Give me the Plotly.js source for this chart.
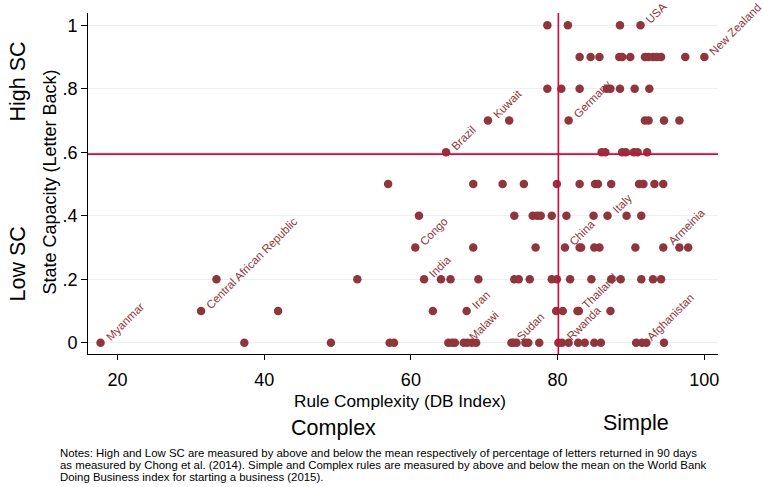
<!DOCTYPE html>
<html><head><meta charset="utf-8">
<script src="https://cdn.plot.ly/plotly-3.0.1.min.js"></script>
<style>html,body{margin:0;padding:0;background:#fff}#chart{width:763px;height:487px}</style>
</head><body><div id="chart"></div>
<script>
// ---- data: Rule complexity (DB index) at each State Capacity level ----
const scLevels = [0, 0.1, 0.2, 0.3, 0.4, 0.5, 0.6, 0.7, 0.8, 0.9, 1.0];
const rule_sc00 = [17.7, 37.3, 49.1, 57.1, 57.7, 65.1, 65.6, 66.0, 67.2, 67.7, 68.3, 68.9, 73.7, 74.0, 74.4, 75.6, 76.0, 77.5, 80.1, 80.6, 81.5, 82.8, 83.7, 85.0, 85.9, 90.7, 91.5, 92.1, 94.5];
const rule_sc01 = [31.4, 41.9, 63.0, 67.6, 79.8, 80.7, 82.7, 82.9, 87.2];
const rule_sc02 = [33.5, 52.7, 61.8, 64.1, 65.4, 69.2, 74.1, 74.7, 76.2, 79.2, 79.9, 81.7, 84.6, 87.3, 88.6, 91.4, 93.0, 94.1];
const rule_sc03 = [60.6, 68.5, 77.0, 81.0, 83.0, 83.2, 85.0, 85.7, 90.6, 94.4, 96.6, 97.8];
const rule_sc04 = [61.1, 74.1, 76.6, 77.2, 77.7, 79.2, 81.2, 84.9, 86.8, 89.4, 91.4];
const rule_sc05 = [56.9, 68.5, 72.5, 75.4, 79.9, 83.0, 85.1, 85.5, 87.3, 91.1, 91.7, 93.2, 94.4];
const rule_sc06 = [64.8, 86.0, 86.5, 88.8, 89.3, 90.4, 90.9, 92.2];
const rule_sc07 = [70.5, 73.4, 81.5, 91.9, 92.4, 94.5, 96.6];
const rule_sc08 = [78.6, 80.5, 83.0, 86.7, 87.2, 88.5, 90.5, 92.5];
const rule_sc09 = [83.0, 84.5, 85.7, 88.4, 88.8, 89.9, 91.9, 92.4, 93.0, 93.5, 94.1, 97.4, 100.0];
const rule_sc10 = [78.6, 81.4, 88.5, 91.3];
const rowsRule = [rule_sc00, rule_sc01, rule_sc02, rule_sc03, rule_sc04, rule_sc05, rule_sc06, rule_sc07, rule_sc08, rule_sc09, rule_sc10];

// labelled countries
const labelCountry = ["Myanmar", "Central African Republic", "Congo", "India", "Iran", "Malawi", "Sudan", "Rwanda", "Thailand", "China", "Italy", "Afghanistan", "Armeinia", "Brazil", "Kuwait", "Germany", "USA", "New Zealand"];
const labelRule    = [17.7, 31.4, 60.6, 61.8, 67.6, 67.2, 73.7, 80.6, 82.7, 81.0, 86.8, 91.5, 94.4, 64.8, 70.5, 81.5, 91.3, 100.0];
const labelSC      = [0, 0.1, 0.3, 0.2, 0.1, 0, 0, 0, 0.1, 0.3, 0.4, 0, 0.3, 0.6, 0.7, 0.7, 1.0, 0.9];

// reference lines (means)
const meanRule = 80.1;
const meanSC = 0.594;

const yTickVals = [0, 0.2, 0.4, 0.6, 0.8, 1];
const yTickText = ["0", ".2", ".4", ".6", ".8", "1"];
const xTickVals = [20, 40, 60, 80, 100];

const notesLines = [
  "Notes: High and Low SC are measured by above and below the mean respectively of percentage of letters returned in 90 days",
  "as measured by Chong et al. (2014). Simple and Complex rules are measured by above and below the mean on the World Bank",
  "Doing Business index for starting a business (2015)."
];

// ---- build ----
const xs = [], ys = [];
rowsRule.forEach((row, i) => row.forEach(v => { xs.push(v); ys.push(scLevels[i]); }));

const marker = "rgb(144,53,59)";
const red = "#d4083e";
const F = "Liberation Sans, Arial, Helvetica, sans-serif";

const W = 763, H = 487, L = 88, R = 45, T = 13, B = 133;
const pw = W - L - R, ph = H - T - B;
const px = x => (x - L) / pw;
const py = y => (H - B - y) / ph;

const annotations = labelCountry.map((c, i) => ({
  x: labelRule[i], y: labelSC[i], xref: "x", yref: "y",
  text: c, showarrow: false, textangle: -45,
  xanchor: "left", yanchor: "bottom", xshift: 0, yshift: -3,
  font: {family: F, size: 11.5, color: marker}
}));

function txt(t, x, y, size, angle, extra) {
  return Object.assign({text: t, x: px(x), y: py(y), xref: "paper", yref: "paper",
    showarrow: false, textangle: angle || 0, xanchor: "center", yanchor: "middle",
    font: {family: F, size: size, color: "#000"}}, extra || {});
}
annotations.push(txt("High SC", 17.5, 82, 21.5, -90));
annotations.push(txt("Low SC", 17.5, 264, 21.5, -90));
annotations.push(txt("State Capacity (Letter Back)", 49, 182.5, 18, -90));
annotations.push(txt("Rule Complexity (DB Index)", 400, 401, 17.2, 0));
annotations.push(txt("Complex", 333.5, 428, 21.5, 0));
annotations.push(txt("Simple", 636, 423, 21.5, 0));
notesLines.forEach((line, i) => {
  annotations.push(txt(line, 59, 452.5 + i * 12.2, 11.4, 0, {xanchor: "left", align: "left", borderpad: 0}));
});

const data = [{
  type: "scatter", mode: "markers", x: xs, y: ys,
  marker: {color: marker, size: 8.5, line: {width: 0}},
  hoverinfo: "x+y", cliponaxis: false
}];

const layout = {
  width: W, height: H,
  margin: {l: L, r: R, t: T, b: B},
  paper_bgcolor: "#fff", plot_bgcolor: "#fff",
  showlegend: false,
  font: {family: F, color: "#000"},
  xaxis: {
    range: [15.99, 101.86], tickvals: xTickVals, ticktext: xTickVals.map(String),
    showgrid: false, zeroline: false, showline: true, linecolor: "#000", linewidth: 1,
    ticks: "outside", ticklen: 5, tickcolor: "#000", ticklabelstandoff: 4,
    tickfont: {family: F, size: 18}
  },
  yaxis: {
    range: [-0.0356, 1.0384], tickvals: yTickVals, ticktext: yTickText,
    showgrid: true, gridcolor: "#eaf0f2", gridwidth: 1.2,
    zeroline: false, showline: true, linecolor: "#000", linewidth: 1,
    ticks: "outside", ticklen: 6, tickcolor: "#000", tickfont: {family: F, size: 18}
  },
  shapes: [
    {type: "line", xref: "x", yref: "paper", x0: meanRule, x1: meanRule, y0: 0, y1: 1, line: {color: red, width: 1.6}, layer: "above"},
    {type: "line", xref: "paper", yref: "y", x0: 0, x1: 1, y0: meanSC, y1: meanSC, line: {color: red, width: 1.6}, layer: "above"}
  ],
  annotations: annotations
};

Plotly.newPlot("chart", data, layout, {displayModeBar: false, staticPlot: true});
</script>
</body></html>
